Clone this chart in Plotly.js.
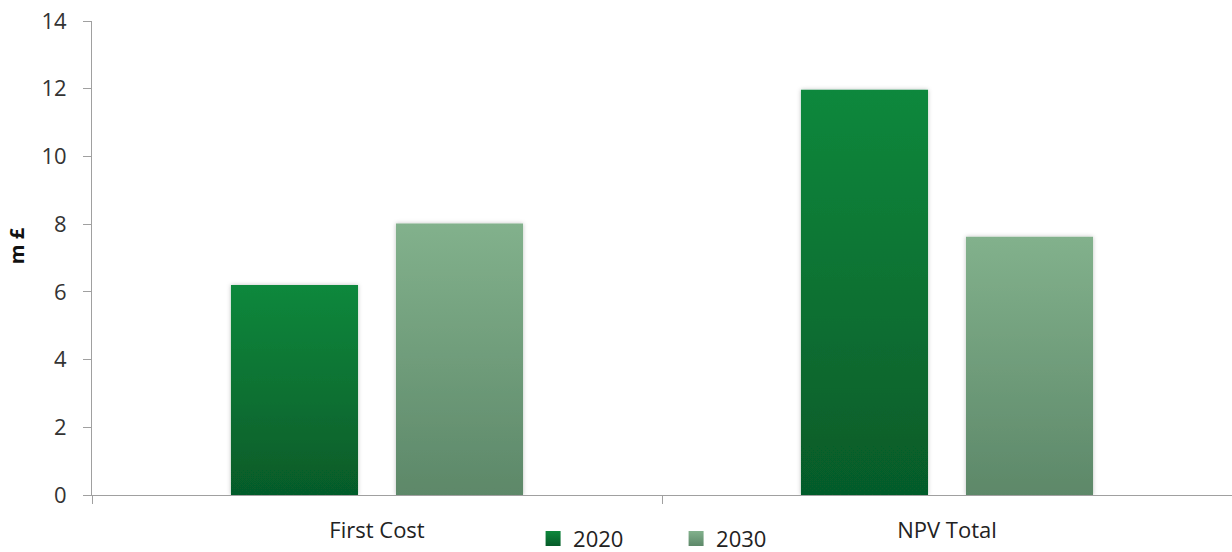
<!DOCTYPE html>
<html>
<head>
<meta charset="utf-8">
<script src="https://cdn.plot.ly/plotly-3.0.1.min.js"></script>
<style>
html,body{margin:0;padding:0;background:#fff;}
#chart{width:1232px;height:552px;}
</style>
</head>
<body>
<div id="chart"></div>
<script>
var categories = ["First Cost", "NPV Total"];
var series2020 = [6.2, 11.97];
var series2030 = [8.02, 7.63];
var seriesNames = ["2020", "2030"];
var yTicks = [0, 2, 4, 6, 8, 10, 12, 14];

var FONT = "'Open Sans', 'Noto Sans', sans-serif";
var gradients = [
  {id: "grad2020", top: "#0e883c", bottom: "#065b29", solid: "#0c7a36"},
  {id: "grad2030", top: "#82b18c", bottom: "#5d8869", solid: "#74a27f"}
];

var traces = [
  {type: "bar", name: seriesNames[0], x: categories, y: series2020,
   marker: {color: gradients[0].solid, line: {width: 0}}, hoverinfo: "none"},
  {type: "bar", name: seriesNames[1], x: categories, y: series2030,
   marker: {color: gradients[1].solid, line: {width: 0}}, hoverinfo: "none"}
];

var layout = {
  width: 1232, height: 552,
  margin: {l: 92, r: 0, t: 21, b: 57, pad: 0},
  paper_bgcolor: "#ffffff", plot_bgcolor: "#ffffff",
  barmode: "group", bargap: 0.421, bargroupgap: 0.23,
  showlegend: true,
  legend: {orientation: "h", xref: "container", yref: "container",
           x: 0.4327, xanchor: "left", y: 0.024, yanchor: "middle",
           font: {family: FONT, size: 22, color: "#222"}, entrywidth: 98, entrywidthmode: "pixels",
           itemwidth: 30, traceorder: "normal", bgcolor: "rgba(0,0,0,0)"},
  xaxis: {type: "category", showline: true, linecolor: "#a0a0a0", linewidth: 1,
          ticks: "outside", tickson: "boundaries", ticklen: 8, tickcolor: "#a0a0a0",
          showgrid: false, zeroline: false, ticklabelstandoff: 16,
          tickfont: {family: FONT, size: 22, color: "#222"}, fixedrange: true},
  yaxis: {range: [0, 14], tickvals: yTicks, ticktext: yTicks.map(String),
          showline: true, linecolor: "#a0a0a0", linewidth: 1,
          ticks: "outside", ticklen: 8, tickcolor: "#a0a0a0",
          showgrid: false, zeroline: false, ticklabelstandoff: 12,
          tickfont: {family: FONT, size: 22, color: "#333"},
          title: {text: "<b>m £</b>", font: {family: FONT, size: 20, color: "#111"}, standoff: 11},
          fixedrange: true}
};

Plotly.newPlot("chart", traces, layout, {displayModeBar: false, staticPlot: true}).then(function(gd){
  var NS = "http://www.w3.org/2000/svg";
  var svg = gd.querySelector(".main-svg");
  var defs = svg.querySelector("defs");
  if (!defs) { defs = document.createElementNS(NS, "defs"); svg.insertBefore(defs, svg.firstChild); }
  gradients.forEach(function(g){
    var lg = document.createElementNS(NS, "linearGradient");
    lg.setAttribute("id", g.id);
    lg.setAttribute("x1", "0"); lg.setAttribute("y1", "0");
    lg.setAttribute("x2", "0"); lg.setAttribute("y2", "1");
    var s1 = document.createElementNS(NS, "stop");
    s1.setAttribute("offset", "0"); s1.setAttribute("stop-color", g.top);
    var s2 = document.createElementNS(NS, "stop");
    s2.setAttribute("offset", "1"); s2.setAttribute("stop-color", g.bottom);
    lg.appendChild(s1); lg.appendChild(s2); defs.appendChild(lg);
  });
  var flt = document.createElementNS(NS, "filter");
  flt.setAttribute("id", "barShadow");
  flt.setAttribute("x", "-10%"); flt.setAttribute("y", "-10%");
  flt.setAttribute("width", "120%"); flt.setAttribute("height", "120%");
  var ds = document.createElementNS(NS, "feDropShadow");
  ds.setAttribute("dx", "0"); ds.setAttribute("dy", "0");
  ds.setAttribute("stdDeviation", "2"); ds.setAttribute("flood-color", "#000");
  ds.setAttribute("flood-opacity", "0.25");
  flt.appendChild(ds); defs.appendChild(flt);
  var barTraces = gd.querySelectorAll(".barlayer .trace.bars");
  barTraces.forEach(function(t, i){
    t.querySelectorAll(".point path").forEach(function(p){
      p.style.fill = "url(#" + gradients[i].id + ")";
      p.setAttribute("filter", "url(#barShadow)");
    });
  });
  var legendTraces = gd.querySelectorAll(".legend .traces");
  legendTraces.forEach(function(t, i){
    t.querySelectorAll(".legendpoints path").forEach(function(p){
      p.style.fill = "url(#" + gradients[i].id + ")";
      var tr = p.getAttribute("transform") || "";
      p.setAttribute("transform", tr + " scale(1.25)");
    });
  });
  var yt = gd.querySelector(".g-ytitle");
  if (yt) { yt.setAttribute("transform", "translate(0,-12)"); }
});
</script>
</body>
</html>
